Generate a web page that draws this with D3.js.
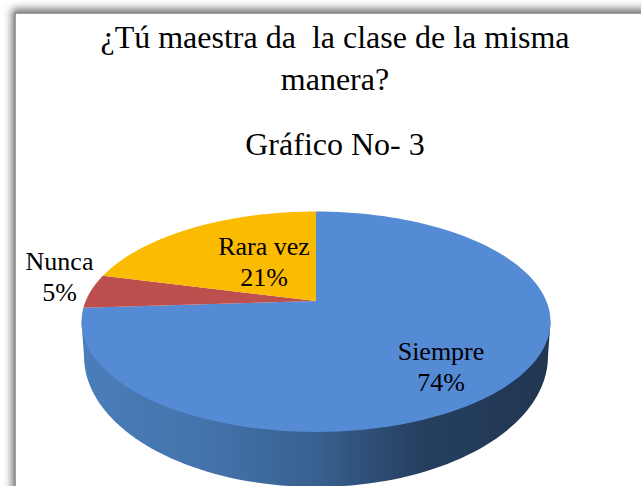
<!DOCTYPE html>
<html><head><meta charset="utf-8">
<script src="https://cdn.jsdelivr.net/npm/d3@7"></script>
<style>html,body{margin:0;padding:0;background:#fff;overflow:hidden}svg{display:block}
text{font-family:"Liberation Serif","Times New Roman",serif;fill:#000;white-space:pre}</style>
</head><body><div id="c"></div>
<script>
const categories = ["Siempre", "Nunca", "Rara vez"];
const values = [74, 5, 21];
const sliceColors = ["#558ad5", "#bd504e", "#fbbb00"];
const titleLines = ["¿Tú maestra da  la clase de la misma", "manera?", "Gráfico No- 3"];

const W = 641, H = 486;
const svg = d3.select("#c").append("svg").attr("width", W).attr("height", H);
const defs = svg.append("defs");

// frame shadow
const blur = defs.append("filter").attr("id","sh").attr("x","-10%").attr("y","-10%").attr("width","120%").attr("height","120%");
blur.append("feGaussianBlur").attr("stdDeviation", 4.5);
svg.append("rect").attr("width",W).attr("height",H).attr("fill","#fff");
svg.append("rect").attr("x",12).attr("y",9).attr("width",W+40).attr("height",H+40)
   .attr("fill","#6e6e6e").attr("filter","url(#sh)");
svg.append("rect").attr("x",15).attr("y",13).attr("width",W+40).attr("height",H+40)
   .attr("fill","#fff").attr("stroke","#8a8a8a").attr("stroke-width",1.6);

// wall gradient
const wallStops = [[0,"#4a7dba"],[0.25,"#4474ad"],[0.5,"#38608f"],[0.72,"#263f60"],[1,"#203652"]];
const g = defs.append("linearGradient").attr("id","wall").attr("gradientUnits","userSpaceOnUse")
  .attr("x1",82).attr("x2",551).attr("y1",0).attr("y2",0);
wallStops.forEach(s => g.append("stop").attr("offset",s[0]).attr("stop-color",s[1]));

// perspective projection of the pie disc
const cx = 316, cy = 301, a = 230.3, b = 106.3, k = 0.188;
const project = (ang, r = 1) => {
  const u = r * Math.sin(ang), v = -r * Math.cos(ang), d = 1 - k * v;
  return [cx + a * u / d, cy + b * v / d];
};
const arcs = d3.pie().sort(null).value(d => d)(values);
const line = d3.line();
const sampled = (a0, a1) => d3.range(0, 121).map(i => a0 + (a1 - a0) * i / 120);

// side wall: the lower half of the base ellipse joined up to the widest points of the disc
const topMidY = 321.5, topRy = 110.5, topRx = 234.5;
const baseY = 356, baseRy = 131, baseRx = 232;
const baseRim = sampled(Math.PI * 0.4, Math.PI * 1.6).map(t => {
  const p = project(t);
  return [cx + (p[0] - cx) * baseRx / topRx, baseY + (p[1] - topMidY) * baseRy / topRy];
}).filter(p => p[1] >= baseY);
const wall = [[cx + topRx, topMidY]].concat(baseRim, [[cx - topRx, topMidY]]);
svg.append("path").attr("d", line(wall) + "Z").attr("fill","url(#wall)");

// top face
svg.append("g").selectAll("path").data(arcs).join("path")
  .attr("d", d => line([[cx, cy]].concat(sampled(d.startAngle, d.endAngle).map(t => project(t)))) + "Z")
  .attr("fill", (d, i) => sliceColors[i]);

// title
const titleY = [48, 90, 155];
svg.append("g").selectAll("text").data(titleLines).join("text")
  .attr("x", 335).attr("y", (d, i) => titleY[i]).attr("text-anchor","middle")
  .attr("font-size", 32).text(d => d);

// labels
const labelPos = [[441, 360], [59.5, 270], [264, 255]];
const lab = svg.append("g").selectAll("g").data(categories).join("g")
  .attr("transform", (d, i) => `translate(${labelPos[i]})`);
lab.append("text").attr("text-anchor","middle").attr("font-size",26).text(d => d);
lab.append("text").attr("text-anchor","middle").attr("font-size",26).attr("y",31).text((d, i) => values[i] + "%");
</script></body></html>
